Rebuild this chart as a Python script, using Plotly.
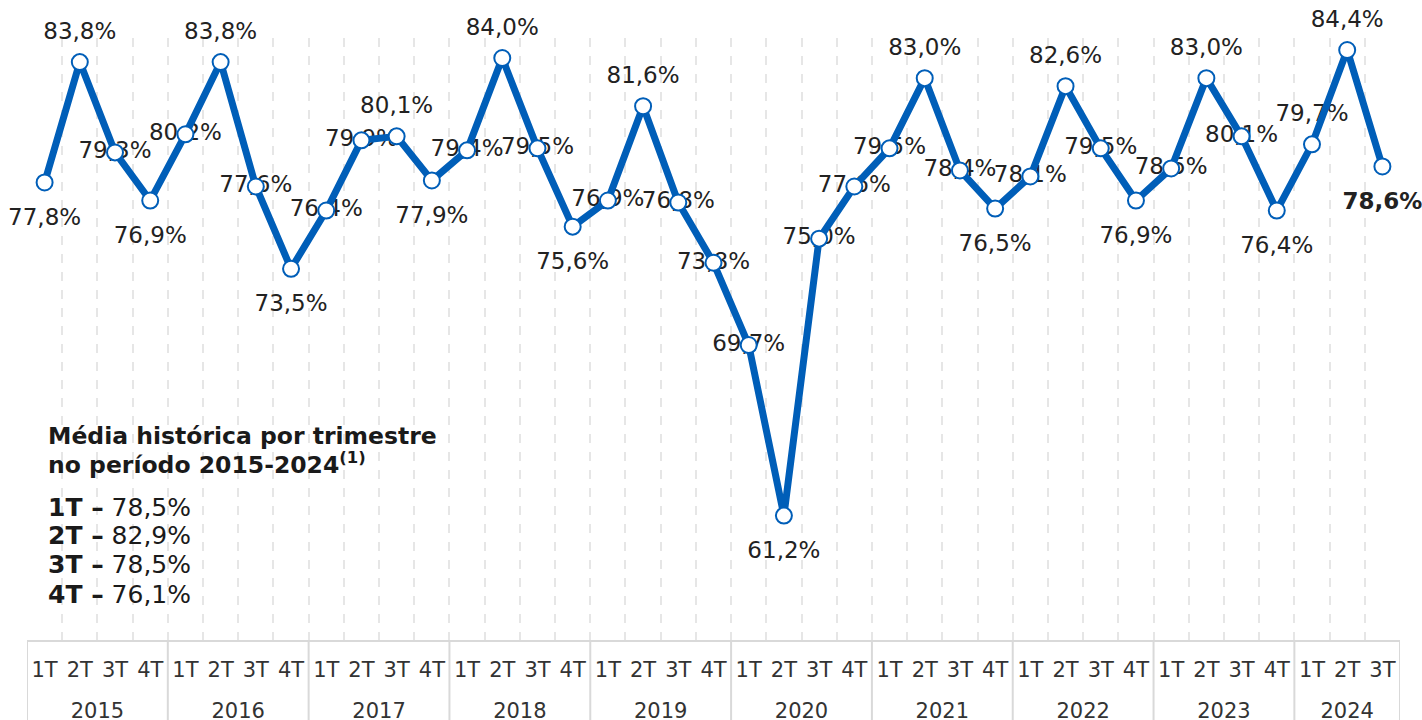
import plotly.graph_objects as go

years = ["2015", "2016", "2017", "2018", "2019", "2020", "2021", "2022", "2023", "2024"]
quarters = ["1T", "2T", "3T", "4T"]
values = {
    "2015": [77.8, 83.8, 79.3, 76.9],
    "2016": [80.2, 83.8, 77.6, 73.5],
    "2017": [76.4, 79.9, 80.1, 77.9],
    "2018": [79.4, 84.0, 79.5, 75.6],
    "2019": [76.9, 81.6, 76.8, 73.8],
    "2020": [69.7, 61.2, 75.0, 77.6],
    "2021": [79.5, 83.0, 78.4, 76.5],
    "2022": [78.1, 82.6, 79.5, 76.9],
    "2023": [78.5, 83.0, 80.1, 76.4],
    "2024": [79.7, 84.4, 78.6],
}
label_pos = {
    "2015": ["b", "t", "m", "b"],
    "2016": ["m", "t", "m", "b"],
    "2017": ["m", "m", "t", "b"],
    "2018": ["m", "t", "m", "b"],
    "2019": ["m", "t", "m", "m"],
    "2020": ["m", "b", "m", "m"],
    "2021": ["m", "t", "m", "b"],
    "2022": ["m", "t", "m", "b"],
    "2023": ["m", "t", "m", "b"],
    "2024": ["t", "t", "b"],
}
avg_quarters = ["1T", "2T", "3T", "4T"]
avg_values = [78.5, 82.9, 78.5, 76.1]
avg_title_lines = ["Média histórica por trimestre", "no período 2015-2024<sup>(1)</sup>"]

BLUE = "#005EB8"
FONT = "DejaVu Sans"
GRID = "#e6e6e6"
DIV = "#d9d9d9"

xs, xs_q, ys, texts, tpos, tsize = [], [], [], [], [], []
year_centers, year_bounds = [], []
pos_map = {"t": "top center", "b": "bottom center", "m": "middle center"}
size_map = {"t": 26, "b": 39, "m": 10}
k = 0
for yr in years:
    start = k
    year_bounds.append(start - 0.5)
    for i, v in enumerate(values[yr]):
        xs.append(k)
        xs_q.append(quarters[i])
        ys.append(v)
        texts.append(f"{v:.1f}%".replace(".", ","))
        tpos.append(pos_map[label_pos[yr][i]])
        tsize.append(size_map[label_pos[yr][i]])
        k += 1
    year_centers.append((start + k - 1) / 2)
year_bounds.append(k - 0.5)
texts[-1] = "<b>" + texts[-1] + "</b>"
xrange = [-0.5, k - 0.5]

fig = go.Figure()
# value labels (drawn beneath the line and markers)
fig.add_trace(go.Scatter(
    x=xs, y=ys, mode="markers+text", text=texts, xaxis="x",
    textposition=tpos, textfont=dict(family=FONT, size=23, color="#222222"),
    marker=dict(size=tsize, opacity=0), hoverinfo="skip", showlegend=False,
    cliponaxis=False,
))
# line with markers on the overlaying axis (carries the year labels)
fig.add_trace(go.Scatter(
    x=xs, y=ys, mode="lines+markers", xaxis="x2",
    line=dict(color=BLUE, width=7),
    marker=dict(size=16, color="white", line=dict(color=BLUE, width=2)),
    showlegend=False, cliponaxis=False,
))

for b in year_bounds:
    fig.add_shape(type="line", xref="x", yref="paper", x0=b, x1=b, y0=0, y1=-0.2,
                  line=dict(color=DIV, width=2))

# plot area spans y 38..640 (602 px)
title_y = [0.3389, 0.2924]
for line, yy in zip(avg_title_lines, title_y):
    fig.add_annotation(
        xref="paper", yref="paper", x=0.0135, y=yy, xanchor="left", yanchor="middle",
        text="<b>" + line + "</b>", align="left", showarrow=False,
        font=dict(family=FONT, size=23.5, color="#1a1a1a"),
    )
value_y = [0.2209, 0.1728, 0.1246, 0.0764]
for q, v, yy in zip(avg_quarters, avg_values, value_y):
    fig.add_annotation(
        xref="paper", yref="paper", x=0.0135, y=yy, xanchor="left", yanchor="middle",
        text=f"<b>{q} –</b> {str(v).replace('.', ',')}%", align="left", showarrow=False,
        font=dict(family=FONT, size=25, color="#1a1a1a"),
    )

fig.update_layout(
    width=1422, height=720,
    margin=dict(l=27, r=22, t=38, b=80),
    plot_bgcolor="white", paper_bgcolor="white",
    font=dict(family=FONT, size=21, color="#333333"),
    hovermode=False,
    xaxis=dict(
        range=xrange, tickmode="array", tickvals=xs, ticktext=xs_q,
        showgrid=False, ticks="", showline=True, linecolor=DIV, linewidth=2,
        zeroline=False, tickangle=0, ticklabelstandoff=10, automargin=False,
        tickfont=dict(family=FONT, size=21, color="#333333"),
        minor=dict(tickmode="linear", tick0=-0.5, dtick=1, showgrid=True,
                   gridcolor=GRID, gridwidth=1.5, griddash="dash", ticks=""),
    ),
    xaxis2=dict(
        overlaying="x", anchor="y", side="bottom", range=xrange,
        tickmode="array", tickvals=year_centers, ticktext=years,
        showgrid=False, ticks="", showline=False, zeroline=False, tickangle=0,
        ticklabelstandoff=56, automargin=False,
        tickfont=dict(family=FONT, size=21, color="#333333"),
    ),
    yaxis=dict(range=[55, 85], showgrid=False, showticklabels=False,
               zeroline=False, showline=False, ticks=""),
)
fig.write_html("out.html", post_script="document.body.style.margin='0';",
               config={"displayModeBar": False})
